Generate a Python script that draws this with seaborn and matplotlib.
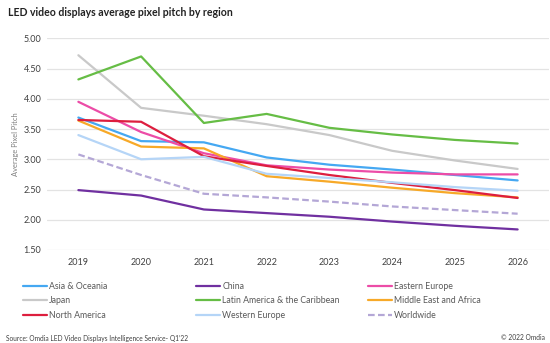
import matplotlib
matplotlib.use("Agg")
import matplotlib.pyplot as plt
from matplotlib.lines import Line2D
import seaborn as sns
import pandas as pd

years = ["2019", "2020", "2021", "2022", "2023", "2024", "2025", "2026"]
regions = ["Asia & Oceania", "China", "Eastern Europe", "Japan",
           "Latin America & the Caribbean", "Middle East and Africa",
           "North America", "Western Europe", "Worldwide"]

asia_oceania = [3.69, 3.30, 3.28, 3.03, 2.91, 2.83, 2.74, 2.65]
china = [2.49, 2.40, 2.17, 2.11, 2.05, 1.97, 1.90, 1.84]
eastern_europe = [3.95, 3.45, 3.10, 2.90, 2.83, 2.78, 2.75, 2.75]
japan = [4.72, 3.85, 3.72, 3.58, 3.40, 3.14, 2.98, 2.84]
latin_america = [4.32, 4.70, 3.60, 3.75, 3.52, 3.41, 3.32, 3.26]
middle_east_africa = [3.64, 3.21, 3.18, 2.72, 2.63, 2.53, 2.44, 2.37]
north_america = [3.65, 3.62, 3.05, 2.89, 2.74, 2.61, 2.49, 2.36]
western_europe = [3.40, 3.00, 3.04, 2.76, 2.69, 2.62, 2.54, 2.48]
worldwide = [3.08, 2.74, 2.43, 2.37, 2.30, 2.22, 2.16, 2.10]

series = [asia_oceania, china, eastern_europe, japan, latin_america,
          middle_east_africa, north_america, western_europe, worldwide]

colors = ["#45A8F2", "#7030A0", "#EC4CA7", "#C9C9C9", "#66BD45",
          "#F7A928", "#DD1E3E", "#B5D5F7", "#B4A7D6"]

rows = []
for name, vals in zip(regions, series):
    for y, v in zip(years, vals):
        rows.append({"Year": y, "Value": v, "Region": name})
df = pd.DataFrame(rows)

sns.set_theme(style="white")
plt.rcParams["font.family"] = ["Lato", "DejaVu Sans"]

fig = plt.figure(figsize=(5.5, 3.43), dpi=100)
ax = fig.add_axes([47/550, 1-250/343, (549-47)/550, (250-38.3)/343])

palette = dict(zip(regions, colors))
dashes = {r: "" for r in regions}
dashes["Worldwide"] = (3, 1.5)
sns.lineplot(data=df, x="Year", y="Value", hue="Region", style="Region",
             palette=palette, dashes=dashes, linewidth=1.6, sort=False,
             legend=False, ax=ax)

ax.set_xlim(-0.5, 7.5)
ax.set_ylim(1.5, 5.0)
ax.set_yticks([1.5, 2.0, 2.5, 3.0, 3.5, 4.0, 4.5, 5.0])
ax.set_yticklabels([f"{t:.2f}" for t in ax.get_yticks()])
ax.yaxis.grid(True, color="#E3E3E3", linewidth=0.9)
ax.set_axisbelow(True)
for s in ["top", "right", "left", "bottom"]:
    ax.spines[s].set_visible(False)
ax.tick_params(axis="both", length=0, labelsize=6.5, colors="#404040", pad=4)
ax.tick_params(axis="x", pad=6)
ax.set_xlabel("")
ax.set_ylabel("Average Pixel Pitch", fontsize=5.4, color="#7F7F7F", labelpad=3)

fig.text(8/550, 1-13/343, "LED video displays average pixel pitch by region",
         fontsize=7.6, fontweight="bold", color="#222222", va="center", ha="left")

# Legend: three columns placed like the reference
cols = [["Asia & Oceania", "Japan", "North America"],
        ["China", "Latin America & the Caribbean", "Western Europe"],
        ["Eastern Europe", "Middle East and Africa", "Worldwide"]]
xs = [23/550, 196/550, 368/550]
for names, x0 in zip(cols, xs):
    handles = []
    for n in names:
        ls = (0, (3, 1.5)) if n == "Worldwide" else "-"
        handles.append(Line2D([], [], color=palette[n], linewidth=1.6, linestyle=ls))
    leg = fig.legend(handles, names, loc="upper left",
                     bbox_to_anchor=(x0, 1-282/343), frameon=False,
                     fontsize=6.3, handlelength=2.7, handletextpad=0.3,
                     labelspacing=0.62, borderpad=0, borderaxespad=0)
    for t in leg.get_texts():
        t.set_color("#595959")

fig.text(6/550, 1-338/343, "Source: Omdia LED Video Displays Intelligence Service- Q1\u201922",
         fontsize=4.8, color="#404040", va="center", ha="left")
fig.text(545/550, 1-338/343, "\u00a9 2022 Omdia",
         fontsize=4.8, color="#404040", va="center", ha="right")

fig.savefig("out.png", dpi=100)
